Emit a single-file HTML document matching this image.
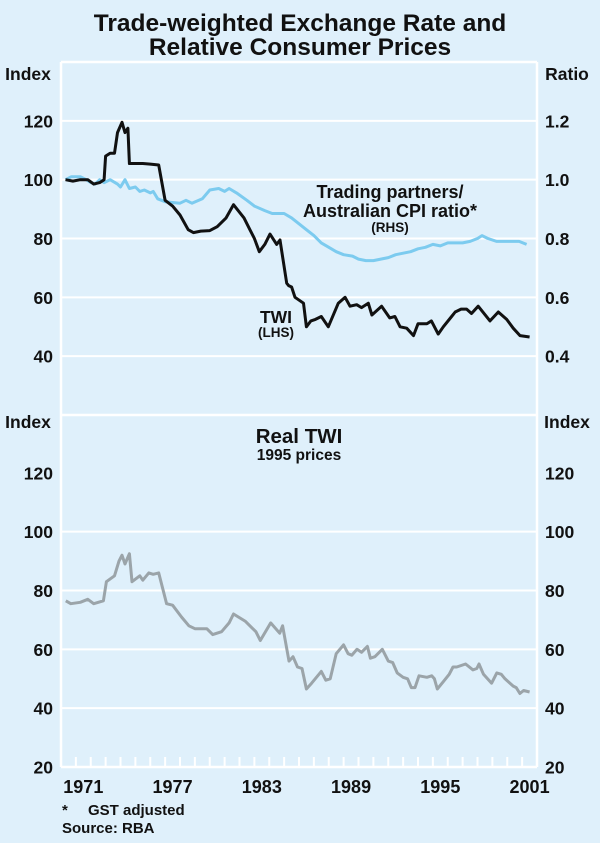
<!DOCTYPE html>
<html><head><meta charset="utf-8">
<style>
html,body{margin:0;padding:0;background:#dff0fb;}
svg{display:block;font-family:"Liberation Sans",Arial,sans-serif;}
</style></head>
<body>
<svg id="chart" width="600" height="843" viewBox="0 0 600 843" xmlns="http://www.w3.org/2000/svg">
<rect x="0" y="0" width="600" height="843" fill="#dff0fb"/>
<text x="300" y="31" text-anchor="middle" font-size="24.5" font-weight="bold" fill="#111">Trade-weighted Exchange Rate and</text>
<text x="300" y="55" text-anchor="middle" font-size="24.5" font-weight="bold" fill="#111">Relative Consumer Prices</text>
<g id="grid"></g>
<g id="series"></g>
<g id="labels"></g>
<text x="28" y="80" text-anchor="middle" font-size="17.5" font-weight="bold" fill="#111">Index</text>
<text x="567" y="80" text-anchor="middle" font-size="17.5" font-weight="bold" fill="#111">Ratio</text>
<text x="28" y="428" text-anchor="middle" font-size="17.5" font-weight="bold" fill="#111">Index</text>
<text x="567" y="428" text-anchor="middle" font-size="17.5" font-weight="bold" fill="#111">Index</text>
<text x="390" y="198" text-anchor="middle" font-size="18" font-weight="bold" fill="#111">Trading partners/</text>
<text x="390" y="217" text-anchor="middle" font-size="18" font-weight="bold" fill="#111">Australian CPI ratio*</text>
<text x="390" y="232" text-anchor="middle" font-size="13.5" font-weight="bold" fill="#111">(RHS)</text>
<text x="276" y="323" text-anchor="middle" font-size="17.5" font-weight="bold" fill="#111">TWI</text>
<text x="276" y="337" text-anchor="middle" font-size="13.5" font-weight="bold" fill="#111">(LHS)</text>
<text x="299" y="443" text-anchor="middle" font-size="20.5" font-weight="bold" fill="#111">Real TWI</text>
<text x="299" y="460" text-anchor="middle" font-size="15.5" font-weight="bold" fill="#111">1995 prices</text>
<text x="62" y="815" font-size="15" font-weight="bold" fill="#111">*<tspan x="88">GST adjusted</tspan></text>
<text x="62" y="833" font-size="15" font-weight="bold" fill="#111">Source: RBA</text>
</svg>
<script>
const twiYears=[1970.3,1970.8,1971.3,1971.8,1972.2,1972.6,1972.9,1973.0,1973.3,1973.6,1973.8,1974.1,1974.3,1974.5,1974.6,1975.5,1976.0,1976.57,1977.0,1977.5,1978.0,1978.55,1978.9,1979.4,1980.0,1980.5,1981.1,1981.6,1982.3,1982.7,1983.0,1983.33,1983.7,1984.05,1984.5,1984.72,1985.17,1985.3,1985.5,1985.73,1986.3,1986.5,1986.8,1987.1,1987.5,1987.97,1988.64,1989.1,1989.43,1989.88,1990.2,1990.66,1990.9,1991.55,1992.1,1992.45,1992.8,1993.24,1993.7,1994.0,1994.6,1994.9,1995.36,1995.7,1996.26,1996.5,1996.9,1997.27,1997.6,1998.05,1998.84,1999.4,1999.96,2000.4,2000.86,2001.5];
const twiValues=[100,99.5,100,100,98.5,99,100,108,109,109,116,119.5,116,117.5,105.5,105.5,105.3,105,93,91,88,83,82,82.5,82.7,84,87,91.5,87,83,80,75.5,78,81.5,78,79.5,64.8,64,63.5,60,58,50,52,52.5,53.5,50,58,60,57,57.5,56.5,58,54,57,53,53.5,50,49.5,47,51,51,52,47.5,50,53.5,55,56,56,54.5,57,52,55,52.5,49.5,47,46.5];
const cpiYears=[1970.3,1970.7,1971.3,1971.7,1972.0,1972.3,1972.6,1972.9,1973.3,1973.8,1974.0,1974.3,1974.6,1975.0,1975.3,1975.6,1976.0,1976.2,1976.5,1977.0,1978.0,1978.4,1978.8,1979.5,1980.0,1980.6,1981.0,1981.3,1981.8,1982.5,1983.0,1983.7,1984.2,1985.0,1985.5,1986.0,1986.5,1987.0,1987.5,1988.0,1988.5,1989.0,1989.6,1990.0,1990.5,1991.0,1991.5,1992.0,1992.5,1993.0,1993.5,1994.0,1994.5,1995.0,1995.5,1996.0,1997.0,1997.5,1998.0,1998.3,1998.7,1999.3,2000.0,2000.8,2001.3];
const cpiValues=[1.0,1.01,1.01,1.0,0.99,0.985,1.0,0.99,1.0,0.985,0.975,1.0,0.97,0.975,0.96,0.965,0.955,0.96,0.935,0.925,0.92,0.93,0.92,0.935,0.965,0.97,0.96,0.97,0.955,0.93,0.91,0.895,0.885,0.885,0.87,0.85,0.83,0.81,0.785,0.77,0.755,0.745,0.74,0.73,0.725,0.725,0.73,0.735,0.745,0.75,0.755,0.765,0.77,0.78,0.775,0.785,0.785,0.79,0.80,0.81,0.80,0.79,0.79,0.79,0.78];
const realYears=[1970.32,1970.66,1971.3,1971.8,1972.2,1972.85,1973.05,1973.6,1973.9,1974.1,1974.3,1974.6,1974.77,1975.3,1975.5,1975.9,1976.2,1976.57,1977.1,1977.5,1978.1,1978.6,1979.0,1979.8,1980.2,1980.8,1981.3,1981.6,1982.4,1982.8,1983.1,1983.4,1984.1,1984.7,1984.9,1985.33,1985.6,1985.9,1986.2,1986.5,1986.85,1987.5,1987.8,1988.1,1988.5,1989.0,1989.3,1989.55,1989.9,1990.2,1990.6,1990.8,1991.1,1991.6,1992.0,1992.3,1992.6,1993.0,1993.3,1993.55,1993.8,1994.07,1994.6,1994.92,1995.1,1995.3,1995.7,1996.1,1996.35,1996.6,1997.2,1997.7,1997.95,1998.1,1998.4,1998.95,1999.3,1999.6,1999.85,2000.4,2000.6,2000.85,2001.1,2001.5];
const realValues=[76.5,75.5,76,77,75.5,76.5,83,85,90,92,89,92.5,83,85,83.5,86,85.5,86,75.5,75,71,68,67,67,65,66,69,72,69.5,67.5,66,63,69,65.5,68,56,57.5,54,53.5,46.5,48.5,52.5,49.5,50,58.5,61.5,58.5,58,60,59,61,57,57.5,60,56,55.5,52,50.5,50,47,47,51,50.5,51,50,46.5,49,51.5,54,54,55,53,53.5,55,51.5,48.5,52,51.5,50,47.5,47,45,46,45.5];
const leftTicks=[40,60,80,100,120];
const rightTicksTop=["0.4","0.6","0.8","1.0","1.2"];
const bottomTicks=[20,40,60,80,100,120];
const yearLabels=[1971,1977,1983,1989,1995,2001];

const NS="http://www.w3.org/2000/svg";
const X0=61,X1=537,Y0=1970,Y1=2002;
const TOP_T=62,TOP_B=415,BOT_T=414,BOT_B=767;
const FS=17.5;
function xs(yr){return X0+(yr-Y0)*(X1-X0)/(Y1-Y0);}
function ysTop(v){return TOP_B-(v-20)*(TOP_B-TOP_T)/120;}
function ysTopR(r){return ysTop(r*100);}
function ysBot(v){return BOT_B-(v-20)*(BOT_B-BOT_T)/120;}
function mk(tag,attrs,parent){const e=document.createElementNS(NS,tag);for(const k in attrs)e.setAttribute(k,attrs[k]);parent.appendChild(e);return e;}
const grid=document.getElementById('grid'),series=document.getElementById('series'),labels=document.getElementById('labels');

let e;
e=mk('line',{x1:X0,x2:X1,y1:TOP_T,y2:TOP_T,stroke:'#fff','stroke-width':2.5},grid);


e=mk('line',{x1:X0,x2:X1,y1:TOP_B,y2:TOP_B,stroke:'#fff','stroke-width':2.5},grid);


e=mk('line',{x1:X0,x2:X0,y1:TOP_T,y2:BOT_B,stroke:'#fff','stroke-width':2.5},grid);


e=mk('line',{x1:X1,x2:X1,y1:TOP_T,y2:BOT_B,stroke:'#fff','stroke-width':2.5},grid);


e=mk('line',{x1:X0,x2:X1,y1:BOT_B,y2:BOT_B,stroke:'#fff','stroke-width':2.5},grid);



leftTicks.forEach((v)=>{
  const y=ysTop(v);
  let g=mk('line',{x1:X0,x2:X1,y1:y,y2:y,stroke:'#fff','stroke-width':2},grid);
  
  
  let t=mk('text',{x:53,y:y+6.5,'text-anchor':'end','font-size':FS,'font-weight':'bold',fill:'#111'},labels);
  t.textContent=v;
  
  
});
rightTicksTop.forEach((r)=>{
  const y=ysTopR(parseFloat(r));
  let t=mk('text',{x:545,y:y+6.5,'font-size':FS,'font-weight':'bold',fill:'#111'},labels);
  t.textContent=r;
  
  
});
bottomTicks.forEach((v)=>{
  const y=ysBot(v);
  if(v>20&&v!==120){
    let g=mk('line',{x1:X0,x2:X1,y1:y,y2:y,stroke:'#fff','stroke-width':2},grid);
    
    
  }
  let t=mk('text',{x:53,y:y+6.5,'text-anchor':'end','font-size':FS,'font-weight':'bold',fill:'#111'},labels);
  t.textContent=v;
  
  
  let t2=mk('text',{x:545,y:y+6.5,'font-size':FS,'font-weight':'bold',fill:'#111'},labels);
  t2.textContent=v;
  
  
});
for(let yr=1971;yr<2002;yr++){
  const x=xs(yr);
  let tk=mk('line',{x1:x,x2:x,y1:BOT_B,y2:BOT_B-10,stroke:'#fff','stroke-width':2},grid);
  
  
}
yearLabels.forEach(yr=>{
  let t=mk('text',{x:xs(yr+0.5),y:793,'text-anchor':'middle','font-size':18,'font-weight':'bold',fill:'#111'},labels);
  t.textContent=yr;
  
  
});
function path(xsArr,vals,yf){return xsArr.map((yr,i)=>(i?'L':'M')+xs(yr).toFixed(1)+','+yf(vals[i]).toFixed(1)).join(' ');}
let p=mk('path',{d:path(cpiYears,cpiValues,ysTopR),fill:'none',stroke:'#7ccbef','stroke-width':3,'stroke-linejoin':'round'},series);


p=mk('path',{d:path(twiYears,twiValues,ysTop),fill:'none',stroke:'#111','stroke-width':3,'stroke-linejoin':'round'},series);


p=mk('path',{d:path(realYears,realValues,ysBot),fill:'none',stroke:'#9ba4a9','stroke-width':3,'stroke-linejoin':'round'},series);


</script>
</body></html>
